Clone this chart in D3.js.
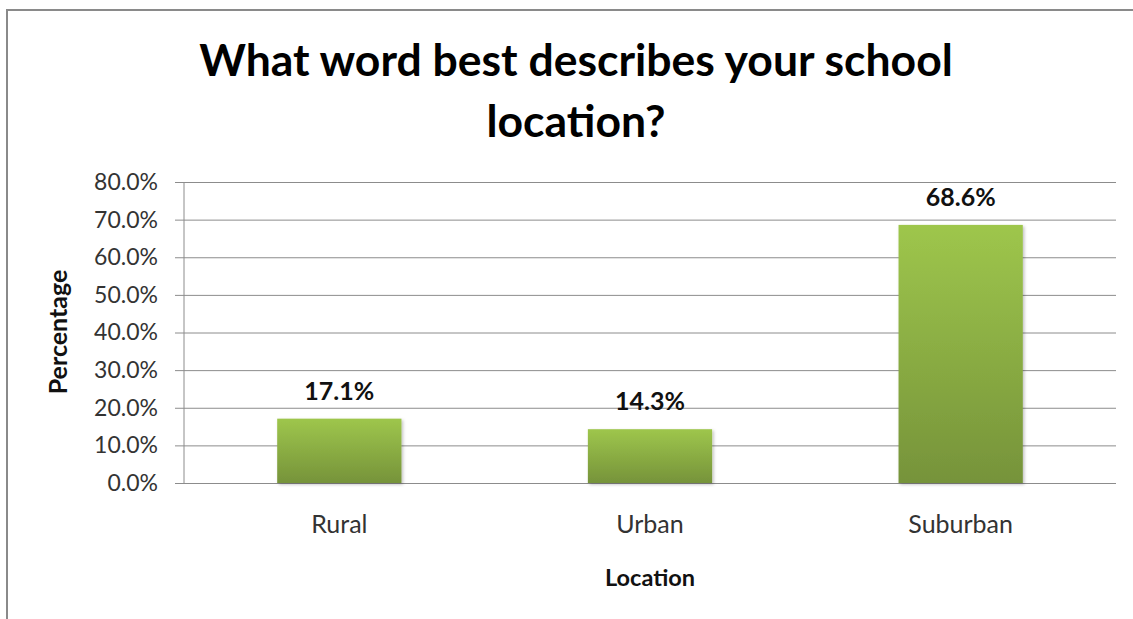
<!DOCTYPE html>
<html>
<head>
<meta charset="utf-8">
<script src="https://cdn.jsdelivr.net/npm/d3@7"></script>
<style>
  body { margin: 0; background: #fff; }
  text { font-family: Lato, "Open Sans", sans-serif; }
</style>
</head>
<body>
<script>
var categories = ["Rural", "Urban", "Suburban"];
var values = [17.1, 14.3, 68.6];
var yTicks = [0, 10, 20, 30, 40, 50, 60, 70, 80];
var titleLines = ["What word best describes your school", "location?"];

var width = 1133, height = 619;
var plot = { left: 184, right: 1116, top: 182, bottom: 483 };

var svg = d3.select("body").append("svg")
    .attr("width", width)
    .attr("height", height);

// outer chart frame (only top/left visible in the crop)
svg.append("rect")
    .attr("x", 7).attr("y", 10)
    .attr("width", width + 20).attr("height", height + 20)
    .attr("fill", "#fff")
    .attr("stroke", "#8a8a8a")
    .attr("stroke-width", 2);

var defs = svg.append("defs");
var grad = defs.append("linearGradient")
    .attr("id", "barGrad")
    .attr("x1", 0).attr("y1", 0).attr("x2", 0).attr("y2", 1);
grad.append("stop").attr("offset", "0%").attr("stop-color", "#9ec64c");
grad.append("stop").attr("offset", "100%").attr("stop-color", "#76933a");

var shadow = defs.append("filter").attr("id", "shadow")
    .attr("x", "-10%").attr("y", "-10%").attr("width", "130%").attr("height", "130%");
shadow.append("feDropShadow")
    .attr("dx", 1.5).attr("dy", 1.5).attr("stdDeviation", 1.5)
    .attr("flood-color", "#000").attr("flood-opacity", 0.25);

var x = d3.scaleBand()
    .domain(categories)
    .range([plot.left, plot.right])
    .paddingInner(0.6)
    .paddingOuter(0.3);

var y = d3.scaleLinear()
    .domain([0, 80])
    .range([plot.bottom, plot.top]);

// gridlines + y axis
var yAxis = d3.axisLeft(y)
    .tickValues(yTicks)
    .tickSize(-(plot.right - plot.left))
    .tickPadding(26)
    .tickFormat(function (d) { return d.toFixed(1) + "%"; });

var gy = svg.append("g")
    .attr("transform", "translate(" + plot.left + ",0)")
    .call(yAxis);
gy.select(".domain").remove();
gy.selectAll(".tick line")
    .attr("x1", -9)
    .attr("stroke", "#8c8c8c");
gy.selectAll(".tick text")
    .attr("fill", "#333")
    .style("font-size", "23px");

svg.append("line")
    .attr("x1", plot.left).attr("x2", plot.left)
    .attr("y1", plot.top).attr("y2", plot.bottom)
    .attr("stroke", "#8c8c8c");

// bars
svg.append("g").selectAll("rect")
    .data(values)
    .enter().append("rect")
    .attr("x", function (d, i) { return x(categories[i]); })
    .attr("y", function (d) { return y(d); })
    .attr("width", x.bandwidth())
    .attr("height", function (d) { return y(0) - y(d); })
    .attr("fill", "url(#barGrad)")
    .attr("filter", "url(#shadow)");

// value labels
svg.append("g").selectAll("text")
    .data(values)
    .enter().append("text")
    .attr("x", function (d, i) { return x(categories[i]) + x.bandwidth() / 2; })
    .attr("y", function (d) { return y(d) - 19; })
    .attr("text-anchor", "middle")
    .style("font-size", "25px")
    .style("font-weight", "bold")
    .attr("fill", "#111")
    .text(function (d) { return d.toFixed(1) + "%"; });

// category labels
svg.append("g").selectAll("text")
    .data(categories)
    .enter().append("text")
    .attr("x", function (d) { return x(d) + x.bandwidth() / 2; })
    .attr("y", 533)
    .attr("text-anchor", "middle")
    .style("font-size", "25px")
    .attr("fill", "#333")
    .text(function (d) { return d; });

// axis titles
svg.append("text")
    .attr("x", (plot.left + plot.right) / 2)
    .attr("y", 586)
    .attr("text-anchor", "middle")
    .style("font-size", "23.5px")
    .style("font-weight", "bold")
    .attr("fill", "#111")
    .text("Location");

svg.append("text")
    .attr("transform", "translate(67,332) rotate(-90)")
    .attr("text-anchor", "middle")
    .style("font-size", "25px")
    .style("font-weight", "bold")
    .attr("fill", "#111")
    .text("Percentage");

// chart title
svg.append("g").selectAll("text")
    .data(titleLines)
    .enter().append("text")
    .attr("x", 576)
    .attr("y", function (d, i) { return 76 + i * 61; })
    .attr("text-anchor", "middle")
    .style("font-size", "44.5px")
    .style("font-weight", "bold")
    .attr("fill", "#000")
    .text(function (d) { return d; });
</script>
</body>
</html>
